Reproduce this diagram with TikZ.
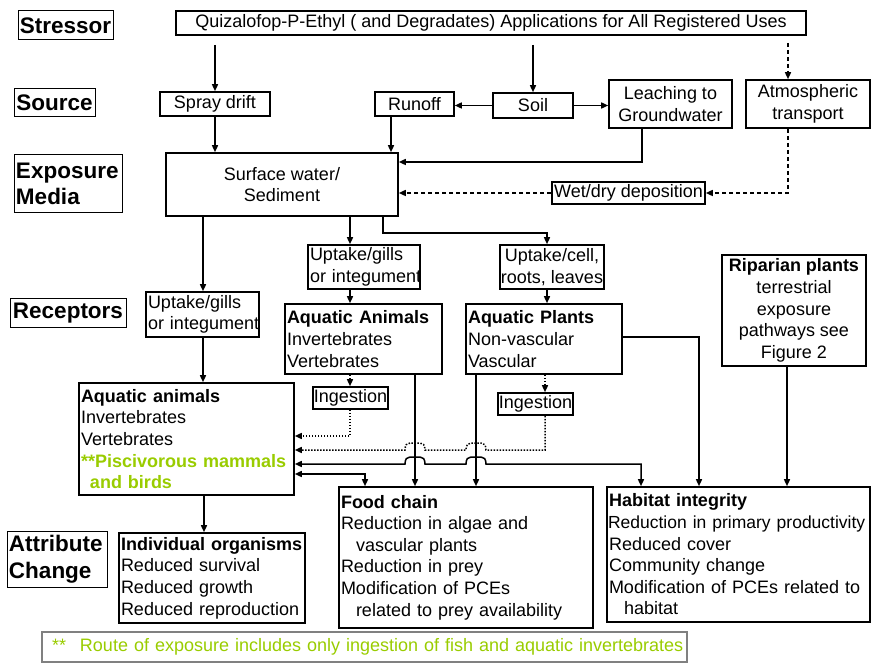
\documentclass[tikz,border=0pt]{standalone}
\usepackage{fontspec}
\setmainfont{Liberation Sans}
\usetikzlibrary{arrows.meta}
\definecolor{pgreen}{RGB}{153,204,0}
\newcommand\txtfont{\fontsize{18}{21.6}\selectfont}
\newcommand\labfont{\fontsize{22.5}{26.5}\selectfont\bfseries}
\newcommand\mkbox[7]{\node[#6,minimum width={#4-#2},minimum height={#5-#3}] (#1) at ({(#2+#4)/2},{(#3+#5)/2}) {#7};}
\newcommand\mklbox[7]{\pgfmathsetmacro\mytw{#4-#2-4}\node[#6,align=left,text width=\mytw pt,minimum width={#4-#2},minimum height={#5-#3}] (#1) at ({(#2+#4)/2},{(#3+#5)/2}) {#7};}
\begin{document}
\begin{tikzpicture}[x=1pt,y=-1pt,>={Triangle[length=7pt,width=6pt]},
 box/.style={draw,line width=1.6pt,inner sep=1pt,font=\txtfont,align=center},
 lab/.style={draw,line width=1pt,inner sep=1pt,font=\labfont,align=left},
 notebox/.style={draw=gray,line width=1.2pt,inner sep=1pt,font=\txtfont},
 conn/.style={line width=1.5pt},
 arr/.style={conn,->},
 both/.style={conn,<->},
 dsh/.style={conn,->,dash pattern=on 4pt off 3pt},
 dot/.style={conn,->,dash pattern=on 1.5pt off 1.5pt},
 hop/.style 2 args={insert path={-- ({#1+10},#2) .. controls ({#1+10},{#2-5}) and ({#1+8},{#2-7}) .. ({#1+5},{#2-7}) -- ({#1-5},{#2-7}) .. controls ({#1-8},{#2-7}) and ({#1-10},{#2-5}) .. ({#1-10},#2)}}
]
\useasboundingbox (0,0) rectangle (871,663);
% row labels
\mkbox{stressorL}{18}{11}{113}{40}{lab}{Stressor}
\mkbox{sourceL}{14}{89}{95}{117}{lab}{Source}
\mklbox{exposureL}{14}{155}{122}{213}{lab}{\mbox{Exposure}\\Media}
\mkbox{receptorsL}{10}{299}{126}{328}{lab}{Receptors}
\mklbox{attributeL}{7}{531}{107}{587}{lab}{\mbox{Attribute}\\Change}
% boxes
\mkbox{stressor}{176}{11}{806}{35}{box}{Quizalofop-P-Ethyl ( and Degradates) Applications for All Registered Uses}
\mkbox{spray}{160}{92}{270}{116}{box}{Spray drift}
\mkbox{runoff}{375}{92}{454}{116}{box}{Runoff}
\mkbox{soil}{493}{93}{573}{118}{box}{Soil}
\mkbox{leach}{609}{80}{732}{128}{box}{Leaching to\\Groundwater}
\mkbox{atmos}{746}{80}{870}{128}{box}{Atmospheric\\transport}
\mkbox{surface}{166}{153}{398}{216}{box}{Surface water/\\Sediment}
\mkbox{wetdry}{552}{182}{705}{204}{box}{Wet/dry deposition}
\mklbox{upgillsL}{146}{292}{259}{337}{box}{Uptake/gills\\\mbox{or integument}}
\mklbox{upgillsM}{308}{245}{420}{289}{box}{Uptake/gills\\\mbox{or integument}}
\mkbox{upcell}{500}{245}{604}{289}{box}{Uptake/cell,\\roots, leaves}
\mklbox{aqAnimals}{285}{304}{442}{374}{box}{\textbf{Aquatic Animals}\\Invertebrates\\Vertebrates}
\mklbox{aqPlants}{466}{304}{622}{374}{box}{\textbf{Aquatic Plants}\\Non-vascular\\Vascular}
\mkbox{riparian}{722}{255}{866}{366}{box}{\textbf{Riparian plants}\\terrestrial\\exposure\\pathways see\\Figure 2}
\mkbox{ingestL}{313}{387}{388}{409}{box}{Ingestion}
\mkbox{ingestR}{498}{393}{573}{415}{box}{Ingestion}
\mklbox{aqAnimals2}{79}{383}{294}{495}{box}{\textbf{Aquatic animals}\\Invertebrates\\Vertebrates\\\mbox{\textcolor{pgreen}{\textbf{**Piscivorous mammals}}}\\\hspace*{9pt}\textcolor{pgreen}{\textbf{and birds}}}
\mklbox{indiv}{119}{533}{305}{623}{box}{\mbox{\textbf{Individual organisms}}\\Reduced survival\\Reduced growth\\\mbox{Reduced reproduction}}
\mklbox{food}{339}{487}{593}{628}{box}{\textbf{Food chain}\\Reduction in algae and\\\hspace*{15pt}vascular plants\\Reduction in prey\\Modification of PCEs\\\hspace*{15pt}\mbox{related to prey availability}}
\mklbox{habitat}{607}{487}{870}{622}{box}{\textbf{Habitat integrity}\\\hspace*{-1pt}\mbox{\fontsize{17.5}{21.6}\selectfont Reduction in primary productivity}\\Reduced cover\\Community change\\\mbox{Modification of PCEs related to}\\\hspace*{15pt}habitat}
\mklbox{footnote}{42}{632}{687}{662}{notebox}{\hspace*{8pt}\textcolor{pgreen}{**\hspace{14pt}\mbox{Route of exposure includes only ingestion of fish and aquatic invertebrates}}}
% connectors
\draw[arr,shorten <=9pt] (spray.north |- stressor.south) -- (spray.north);
\draw[arr,shorten <=9pt] (soil.north |- stressor.south) -- (soil.north);
\draw[dsh,shorten <=7pt] (stressor.south -| 788,0) -- (atmos.north -| 788,0);
\draw[arr] (soil.west) -- (soil.west -| runoff.east);
\draw[arr] (soil.east) -- (soil.east -| leach.west);
\draw[arr] (spray.south) -- (spray.south |- surface.north);
\draw[arr] (runoff.south -| 391,0) -- (surface.north -| 391,0);
\draw[arr] (leach.south -| 642,0) |- (surface.east |- 0,162);
\draw[dsh] (atmos.south -| 788,0) |- (wetdry.east);
\draw[dsh] (wetdry.west) -- (wetdry.west -| surface.east);
\draw[arr] (surface.south -| 203,0) -- (upgillsL.north -| 203,0);
\draw[arr] (surface.south -| 350,0) -- (upgillsM.north -| 350,0);
\draw[arr] (surface.south -| 383,0) |- (547,233) -- (upcell.north -| 547,0);
\draw[arr] (upgillsM.south -| 350,0) -- (aqAnimals.north -| 350,0);
\draw[arr] (upcell.south -| 547,0) -- (aqPlants.north -| 547,0);
\draw[arr] (upgillsL.south -| 203,0) -- (aqAnimals2.north -| 203,0);
\draw[dot] (aqAnimals.south -| 350,0) -- (ingestL.north -| 350,0);
\draw[dot] (ingestL.south -| 350,0) |- (aqAnimals2.east |- 0,436);
\draw[dot] (aqPlants.south -| 545,0) -- (ingestR.north -| 545,0);
\draw[dot] (ingestR.south -| 545,0) -- (545,450) [hop={476}{450}] [hop={415}{450}] -- (aqAnimals2.east |- 0,450);
\draw[both] (habitat.north -| 641,0) -- (641,464) [hop={476}{464}] [hop={415}{464}] -- (aqAnimals2.east |- 0,464);
\draw[both] (aqAnimals2.east |- 0,474) -| (food.north -| 365,0);
\draw[arr] (aqAnimals.south -| 415,0) -- (food.north -| 415,0);
\draw[arr] (aqPlants.south -| 476,0) -- (food.north -| 476,0);
\draw[arr] (aqPlants.east |- 0,337) -| (habitat.north -| 699,0);
\draw[arr] (riparian.south -| 787,0) -- (habitat.north -| 787,0);
\draw[arr] (aqAnimals2.south -| 204,0) -- (indiv.north -| 204,0);
\end{tikzpicture}
\end{document}
